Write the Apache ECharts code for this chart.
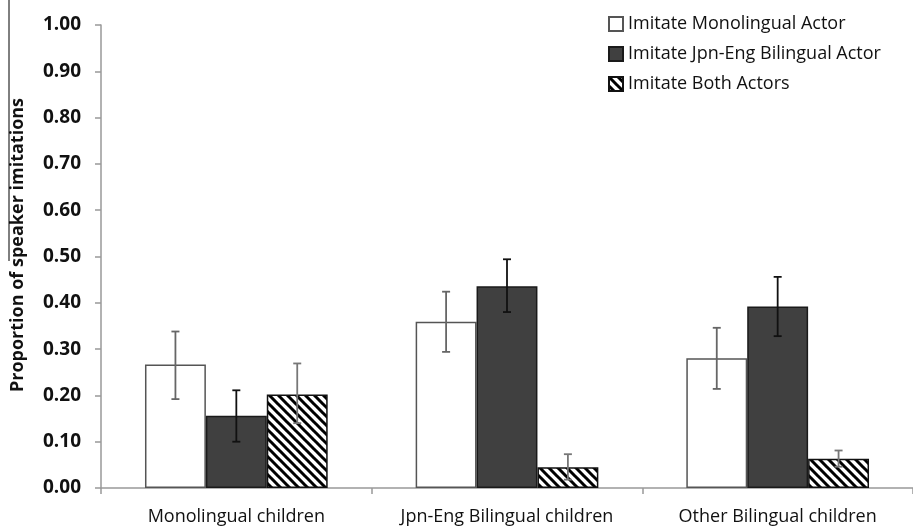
<!DOCTYPE html>
<html>
<head>
<meta charset="utf-8">
<script src="https://cdn.jsdelivr.net/npm/echarts@6/dist/echarts.min.js"></script>
<style>html,body{margin:0;padding:0;background:#fff}#c{width:913px;height:528px}</style>
</head>
<body>
<div id="c"></div>
<script>
const categories = ['Monolingual children', 'Jpn-Eng Bilingual children', 'Other Bilingual children'];
const seriesNames = ['Imitate Monolingual Actor', 'Imitate Jpn-Eng Bilingual Actor', 'Imitate Both Actors'];
const monoValues = [0.267, 0.359, 0.280];
const monoErrLow = [0.192, 0.294, 0.214];
const monoErrHigh = [0.338, 0.424, 0.346];
const jpnValues = [0.156, 0.436, 0.392];
const jpnErrLow = [0.100, 0.380, 0.328];
const jpnErrHigh = [0.211, 0.494, 0.456];
const bothValues = [0.202, 0.045, 0.063];
const bothErrLow = [0.140, 0.018, 0.046];
const bothErrHigh = [0.269, 0.073, 0.081];
const yTicks = [0, 0.1, 0.2, 0.3, 0.4, 0.5, 0.6, 0.7, 0.8, 0.9, 1.0];

const FONT = 'Open Sans';
const BAR_FRAC = 0.225;

// hatch pattern
const tile = document.createElement('canvas');
const S = 9;
tile.width = S; tile.height = S;
const g = tile.getContext('2d');
g.fillStyle = '#fff'; g.fillRect(0, 0, S, S);
g.strokeStyle = '#000'; g.lineWidth = 3;
g.beginPath();
g.moveTo(-1, -1); g.lineTo(S + 1, S + 1);
g.moveTo(-1, S - 1); g.lineTo(1, S + 1);
g.moveTo(S - 1, -1); g.lineTo(S + 1, 1);
g.stroke();

function errSeries(low, high, idx, color) {
  return {
    type: 'custom',
    z: 10,
    silent: true,
    data: low.map((l, i) => [i, l, high[i]]),
    encode: { x: 0, y: [1, 2] },
    renderItem: function (params, api) {
      const xi = api.value(0);
      const lo = api.coord([xi, api.value(1)]);
      const hi = api.coord([xi, api.value(2)]);
      const cw = api.size([1, 0])[0];
      const x = lo[0] + (idx - 1) * cw * BAR_FRAC;
      const cap = 4;
      const st = { stroke: color, lineWidth: 1.8 };
      return {
        type: 'group',
        children: [
          { type: 'line', shape: { x1: x, y1: lo[1], x2: x, y2: hi[1] }, style: st },
          { type: 'line', shape: { x1: x - cap, y1: hi[1], x2: x + cap, y2: hi[1] }, style: st },
          { type: 'line', shape: { x1: x - cap, y1: lo[1], x2: x + cap, y2: lo[1] }, style: st }
        ]
      };
    }
  };
}

const chart = echarts.init(document.getElementById('c'), null, { renderer: 'canvas' });
chart.setOption({
  animation: false,
  backgroundColor: '#fff',
  grid: { left: 101, top: 25, width: 813, height: 463, containLabel: false },
  legend: {
    data: seriesNames,
    orient: 'vertical',
    left: 603,
    top: 10,
    icon: 'rect',
    itemWidth: 14,
    itemHeight: 14,
    itemGap: 12,
    textStyle: { fontFamily: FONT, fontSize: 18, color: '#111', padding: [0, 0, 0, 0] }
  },
  xAxis: {
    type: 'category',
    data: categories,
    axisLine: { lineStyle: { color: '#999', width: 1.5 } },
    axisTick: { show: true, length: 6, lineStyle: { color: '#999', width: 1.5 } },
    axisLabel: { fontFamily: FONT, fontSize: 18, color: '#111', margin: 20, interval: 0 }
  },
  yAxis: {
    type: 'value',
    min: 0,
    max: 1,
    interval: 0.1,
    splitLine: { show: false },
    axisLine: { show: true, lineStyle: { color: '#999', width: 1.5 } },
    axisTick: { show: true, length: 6, lineStyle: { color: '#999', width: 1.5 } },
    axisLabel: {
      fontFamily: FONT, fontSize: 19, fontWeight: 'bold', color: '#111', margin: 20,
      formatter: v => v.toFixed(2)
    }
  },
  graphic: [
    {
      type: 'text',
      rotation: Math.PI / 2,
      x: 9, y: 245,
      style: {
        text: 'Proportion of speaker imitations',
        fontFamily: FONT, fontSize: 18, fontWeight: 'bold', fill: '#111',
        align: 'center', verticalAlign: 'top'
      }
    },
    {
      type: 'line',
      shape: { x1: 9, y1: 0, x2: 9, y2: 261 },
      style: { stroke: '#000', lineWidth: 1 }
    }
  ],
  series: [
    {
      name: seriesNames[0], type: 'bar', data: monoValues,
      barWidth: (BAR_FRAC * 100) + '%', barGap: '0%',
      itemStyle: { color: '#fff', borderColor: '#555', borderWidth: 1.5 }
    },
    {
      name: seriesNames[1], type: 'bar', data: jpnValues,
      barWidth: (BAR_FRAC * 100) + '%', barGap: '0%',
      itemStyle: { color: '#404040', borderColor: '#1a1a1a', borderWidth: 1.5 }
    },
    {
      name: seriesNames[2], type: 'bar', data: bothValues,
      barWidth: (BAR_FRAC * 100) + '%', barGap: '0%',
      itemStyle: { color: { image: tile, repeat: 'repeat' }, borderColor: '#111', borderWidth: 1.5 }
    },
    errSeries(monoErrLow, monoErrHigh, 0, '#666'),
    errSeries(jpnErrLow, jpnErrHigh, 1, '#111'),
    errSeries(bothErrLow, bothErrHigh, 2, '#777')
  ]
});
</script>
</body>
</html>
